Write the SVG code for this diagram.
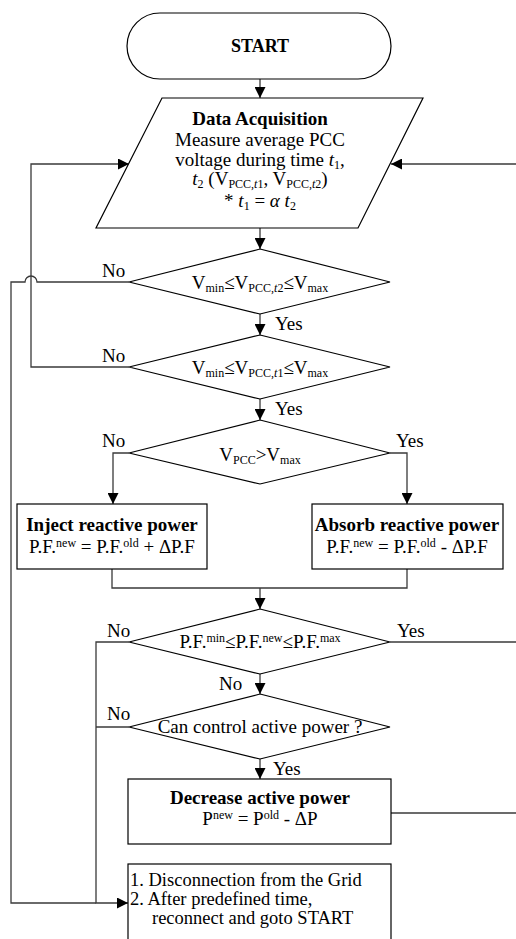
<svg xmlns="http://www.w3.org/2000/svg" width="516" height="939" viewBox="0 0 516 939">
<style>
text{font-family:"Liberation Serif","Times New Roman",serif;font-size:19px;fill:#000}
.b{font-weight:bold}
.s{font-size:12px}
.d{font-size:18.5px}
.shape{fill:#fff;stroke:#000;stroke-width:1.2}
.con{fill:none;stroke:#3a3a3a;stroke-width:1.3}
</style>
<defs>
<marker id="ah" markerUnits="userSpaceOnUse" markerWidth="11" markerHeight="11" refX="11" refY="5.5" orient="auto">
<path d="M0,0 L11,5.5 L0,11 Z" fill="#000"/>
</marker>
</defs>
<rect width="516" height="939" fill="#fff"/>

<g id="connectors">
<line class="con" x1="260" y1="79" x2="260" y2="98" marker-end="url(#ah)"/>
<line class="con" x1="260" y1="228" x2="260" y2="249" marker-end="url(#ah)"/>
<line class="con" x1="260" y1="314" x2="260" y2="335" marker-end="url(#ah)"/>
<line class="con" x1="260" y1="399" x2="260" y2="420" marker-end="url(#ah)"/>
<polyline class="con" points="129,453 113,453 113,504" marker-end="url(#ah)"/>
<polyline class="con" points="390,453 407,453 407,504" marker-end="url(#ah)"/>
<polyline class="con" points="112,569 112,588 407,588 407,569"/>
<line class="con" x1="260" y1="588" x2="260" y2="609" marker-end="url(#ah)"/>
<line class="con" x1="260" y1="674" x2="260" y2="694" marker-end="url(#ah)"/>
<line class="con" x1="260" y1="759" x2="260" y2="779" marker-end="url(#ah)"/>
<polyline class="con" points="129,642 96,642 96,903 128,903" marker-end="url(#ah)"/>
<line class="con" x1="129" y1="727" x2="96" y2="727"/>
<path class="con" d="M129,282 H37 A6,6 0 0 0 25,282 H11 V903 H96"/>
<polyline class="con" points="129,367 31,367 31,164 129,164" marker-end="url(#ah)"/>
<line class="con" x1="516" y1="164" x2="391" y2="164" marker-end="url(#ah)"/>
<line class="con" x1="390" y1="642" x2="516" y2="642"/>
<line class="con" x1="391" y1="813" x2="516" y2="813"/>
</g>

<g id="start">
<rect class="shape" x="127" y="13" width="264" height="66" rx="33" ry="33"/>
<text class="b" x="260" y="52" text-anchor="middle" style="font-size:18px">START</text>
</g>

<g id="data-acquisition">
<polygon class="shape" points="162,98 423,98 358,228 96,228"/>
<text class="b" x="260" y="125" text-anchor="middle">Data Acquisition</text>
<text x="260" y="146" text-anchor="middle">Measure average PCC</text>
<text x="260" y="166" text-anchor="middle">voltage during time <tspan font-style="italic">t</tspan><tspan class="s" dy="3">1</tspan><tspan dy="-3">,</tspan></text>
<text x="260" y="185" text-anchor="middle"><tspan font-style="italic">t</tspan><tspan class="s" dy="3">2</tspan><tspan dy="-3"> (V</tspan><tspan class="s" dy="3">PCC,<tspan font-style="italic">t</tspan>1</tspan><tspan dy="-3">, V</tspan><tspan class="s" dy="3">PCC,<tspan font-style="italic">t</tspan>2</tspan><tspan dy="-3">)</tspan></text>
<text x="260" y="207" text-anchor="middle">* <tspan font-style="italic">t</tspan><tspan class="s" dy="3">1</tspan><tspan dy="-3"> = </tspan><tspan font-style="italic">α t</tspan><tspan class="s" dy="3">2</tspan></text>
</g>

<g id="check-t2">
<polygon class="shape" points="260,249 390,282 260,314 129,282"/>
<text x="260" y="289" text-anchor="middle">V<tspan class="s" dy="3">min</tspan><tspan dy="-3">≤V</tspan><tspan class="s" dy="3">PCC,<tspan font-style="italic">t</tspan>2</tspan><tspan dy="-3">≤V</tspan><tspan class="s" dy="3">max</tspan></text>
<text x="102" y="277">No</text>
<text x="275" y="330">Yes</text>
</g>

<g id="check-t1">
<polygon class="shape" points="260,335 390,367 260,399 129,367"/>
<text x="260" y="374" text-anchor="middle">V<tspan class="s" dy="3">min</tspan><tspan dy="-3">≤V</tspan><tspan class="s" dy="3">PCC,<tspan font-style="italic">t</tspan>1</tspan><tspan dy="-3">≤V</tspan><tspan class="s" dy="3">max</tspan></text>
<text x="102" y="362">No</text>
<text x="275" y="415">Yes</text>
</g>

<g id="check-vmax">
<polygon class="shape" points="260,420 390,453 260,484 129,453"/>
<text x="260" y="461" text-anchor="middle">V<tspan class="s" dy="3">PCC</tspan><tspan dy="-3">&gt;V</tspan><tspan class="s" dy="3">max</tspan></text>
<text x="102" y="447">No</text>
<text x="396" y="447">Yes</text>
</g>

<g id="inject">
<rect class="shape" x="17" y="504" width="190" height="65"/>
<text class="b" x="112" y="531" text-anchor="middle">Inject reactive power</text>
<text x="112" y="553" text-anchor="middle">P.F.<tspan class="s" dy="-6">new</tspan><tspan dy="6"> = P.F.</tspan><tspan class="s" dy="-6">old</tspan><tspan dy="6"> + ΔP.F</tspan></text>
</g>

<g id="absorb">
<rect class="shape" x="312" y="504" width="191" height="65"/>
<text class="b" x="407" y="531" text-anchor="middle">Absorb reactive power</text>
<text x="407" y="553" text-anchor="middle">P.F.<tspan class="s" dy="-6">new</tspan><tspan dy="6"> = P.F.</tspan><tspan class="s" dy="-6">old</tspan><tspan dy="6">  -  ΔP.F</tspan></text>
</g>

<g id="check-pf">
<polygon class="shape" points="260,609 390,642 260,674 129,642"/>
<text x="260" y="648" text-anchor="middle">P.F.<tspan class="s" dy="-6">min</tspan><tspan dy="6">≤P.F.</tspan><tspan class="s" dy="-6">new</tspan><tspan dy="6">≤P.F.</tspan><tspan class="s" dy="-6">max</tspan></text>
<text x="107" y="637">No</text>
<text x="397" y="637">Yes</text>
<text x="219" y="690">No</text>
</g>

<g id="check-active">
<polygon class="shape" points="260,694 390,727 260,759 129,727"/>
<text x="260" y="733" text-anchor="middle">Can control active power ?</text>
<text x="107" y="720">No</text>
<text x="273" y="775">Yes</text>
</g>

<g id="decrease">
<rect class="shape" x="128" y="779" width="263" height="65"/>
<text class="b" x="260" y="804" text-anchor="middle">Decrease active power</text>
<text x="260" y="825" text-anchor="middle">P<tspan class="s" dy="-6">new</tspan><tspan dy="6"> = P</tspan><tspan class="s" dy="-6">old</tspan><tspan dy="6">  -  ΔP</tspan></text>
</g>

<g id="disconnect">
<rect class="shape" x="128" y="864" width="263" height="80"/>
<text class="d" x="130" y="886">1. Disconnection from the Grid</text>
<text class="d" x="130" y="905">2. After predefined time,</text>
<text class="d" x="152" y="924">reconnect and goto START</text>
</g>
</svg>
